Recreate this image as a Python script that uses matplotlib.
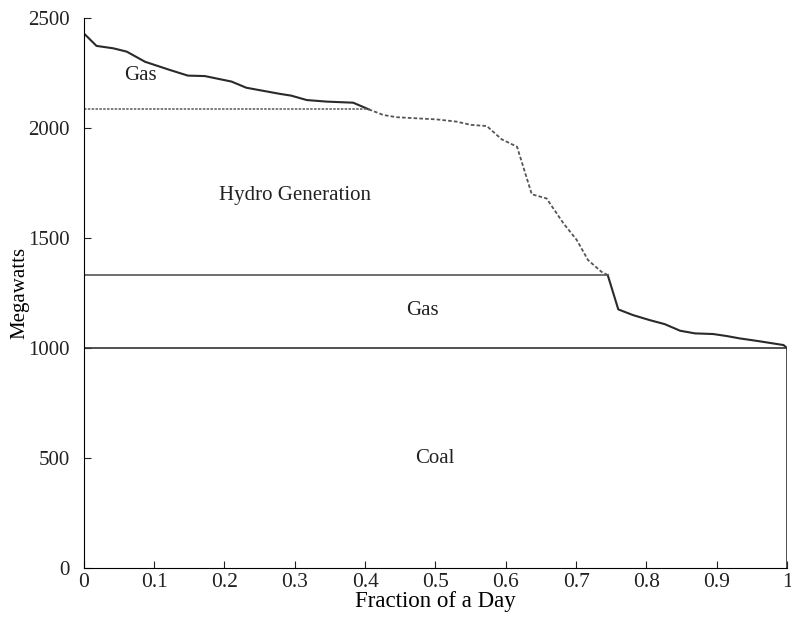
import matplotlib
matplotlib.use("Agg")
import matplotlib.pyplot as plt
import numpy as np

# load duration curve (fraction of day, MW)
day_frac = [0.0, 0.018, 0.042, 0.061, 0.087, 0.122, 0.148, 0.172, 0.210, 0.231,
            0.279, 0.295, 0.317, 0.345, 0.383, 0.405, 0.426, 0.445, 0.502, 0.530,
            0.551, 0.573, 0.594, 0.616, 0.637, 0.658, 0.682, 0.701, 0.717, 0.736,
            0.745, 0.760, 0.781, 0.805, 0.826, 0.848, 0.869, 0.895, 0.914, 0.933,
            0.957, 0.995, 1.0]
load_mw = [2430, 2373, 2362, 2347, 2301, 2264, 2238, 2236, 2211, 2183,
           2155, 2147, 2127, 2120, 2115, 2085, 2059, 2049, 2039, 2029,
           2014, 2009, 1949, 1915, 1699, 1680, 1567, 1491, 1400, 1347,
           1332, 1176, 1150, 1127, 1109, 1079, 1067, 1064, 1055, 1044,
           1033, 1014, 1000]

coal_level = 1000
gas_level = 1332
hydro_level = 2085

region_labels = ["Gas", "Hydro Generation", "Gas", "Coal"]
region_pos = [(0.081, 2240), (0.30, 1695), (0.481, 1173), (0.499, 500)]

xticks = [0, 0.1, 0.2, 0.3, 0.4, 0.5, 0.6, 0.7, 0.8, 0.9, 1]
xtick_labels = ["0", "0.1", "0.2", "0.3", "0.4", "0.5", "0.6", "0.7", "0.8", "0.9", "1"]
yticks = [0, 500, 1000, 1500, 2000, 2500]

plt.rcParams["font.family"] = ["Liberation Serif", "DejaVu Serif"]

fig = plt.figure(figsize=(7.91, 6.19), dpi=100)
ax = fig.add_axes([0.106, 0.082, 0.889, 0.889])

x = np.array(day_frac)
y = np.array(load_mw)
i_hydro = day_frac.index(0.405)
i_gas = day_frac.index(0.745)

# peak gas part (solid), hydro part (dotted), mid gas part (solid)
ax.plot(x[:i_hydro + 1], y[:i_hydro + 1], color="#2a2a2a", lw=1.5)
ax.plot(x[i_hydro:i_gas + 1], y[i_hydro:i_gas + 1], color="#555555", lw=1.3,
        ls=(0, (2, 1.2)))
ax.plot(x[i_gas:], y[i_gas:], color="#2a2a2a", lw=1.5)

# horizontal split lines
ax.plot([0, day_frac[i_hydro]], [hydro_level, hydro_level], color="#666666",
        lw=1.2, ls=(0, (1.5, 0.8)))
ax.plot([0, day_frac[i_gas]], [gas_level, gas_level], color="#555555", lw=1.2)
ax.plot([0, 1], [coal_level, coal_level], color="#333333", lw=1.2)
ax.plot([1, 1], [0, coal_level], color="#333333", lw=1.2)

for label, (lx, ly) in zip(region_labels, region_pos):
    ax.text(lx, ly, label, fontsize=15, ha="center", va="center", color="#222222")

ax.set_xlim(0, 1)
ax.set_ylim(0, 2500)
ax.set_xticks(xticks)
ax.set_xticklabels(xtick_labels)
ax.set_yticks(yticks)
ax.tick_params(direction="in", length=5, labelsize=15.5, colors="#222222")
ax.tick_params(axis="y", pad=10, labelsize=15)
ax.spines["top"].set_visible(False)
ax.spines["right"].set_visible(False)
ax.set_xlabel("Fraction of a Day", fontsize=16.5, labelpad=-1)
ax.set_ylabel("Megawatts", fontsize=15, labelpad=-1)

fig.savefig("out.png", dpi=100)
